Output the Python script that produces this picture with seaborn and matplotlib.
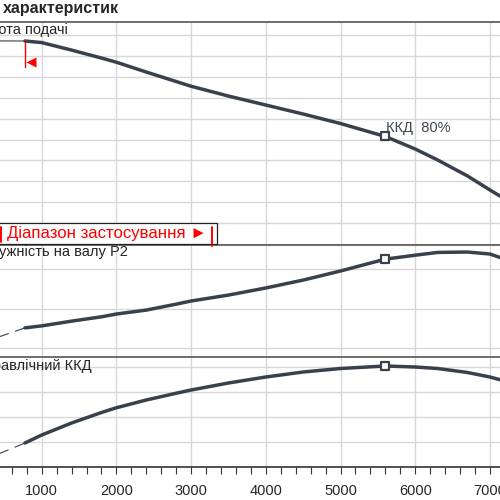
import matplotlib
matplotlib.use("Agg")
import matplotlib.pyplot as plt
import seaborn as sns
import pandas as pd
from matplotlib.patches import Rectangle

# pump curves (flow in l/h)
flow = [776, 1000, 1400, 1800, 2000, 2400, 2800, 3000, 3500, 4000, 4500, 5000, 5600, 6000, 6300, 6700, 7000, 7200]
head = [19.43, 19.28, 18.56, 17.80, 17.40, 16.46, 15.55, 15.10, 14.16, 13.30, 12.44, 11.53, 10.29, 9.09, 8.04, 6.51, 5.17, 4.31]
power = [2.51, 2.56, 2.68, 2.79, 2.86, 2.96, 3.11, 3.19, 3.34, 3.52, 3.72, 3.95, 4.25, 4.35, 4.42, 4.43, 4.38, 4.25]
eff = [19.2, 25.6, 35.2, 43.6, 47.4, 53.6, 59.0, 61.6, 67.2, 72.0, 76.0, 78.8, 80.8, 80.0, 78.8, 75.6, 72.0, 68.8]

# thin part of the curves below the application range
ext_flow = [0, 776]
ext_head = [19.45, 19.43]
ext_power = [2.0, 2.51]
ext_eff = [0.0, 19.2]

duty_flow = 5600
range_start = 776
xticks = [1000, 2000, 3000, 4000, 5000, 6000, 7000]

df = pd.DataFrame({"flow": flow, "head": head, "power": power, "eff": eff})
duty = df[df["flow"] == duty_flow]

sns.set_style("white")
plt.rcParams["font.family"] = ["Liberation Sans", "DejaVu Sans"]

CURVE = "#38414d"
GRID = "#d8d8d8"
SPINE = "#555555"

fig = plt.figure(figsize=(5, 5), dpi=100)


def fx(px):
    return px / 500


def fy(py):
    return 1 - py / 500


# axes run past the figure edges, like the cropped original
left, width = -0.066, 1.1952
ax1 = fig.add_axes([left, fy(245), width, (245 - 22) / 500])
ax2 = fig.add_axes([left, fy(357), width, (357 - 245) / 500])
ax3 = fig.add_axes([left, fy(467), width, (467 - 357) / 500])

panels = [
    (ax1, "head", ext_head, (-0.1, 21.25), range(0, 21, 2), "-"),
    (ax2, "power", ext_power, (1.772, 4.608), [2, 3, 4], (2.7, (12, 6))),
    (ax3, "eff", ext_eff, (0, 88), [0, 20, 40, 60, 80], (2.7, (12, 6))),
]

for ax, col, ext, ylim, yt, ls in panels:
    ax.plot(ext_flow, ext, color=CURVE, lw=0.8, ls=ls, zorder=3)
    sns.lineplot(data=df, x="flow", y=col, ax=ax, color=CURVE, lw=2.5, zorder=4)
    sns.scatterplot(data=duty, x="flow", y=col, ax=ax, marker="s", s=32,
                    facecolor="white", edgecolor=CURVE, linewidth=1.6, zorder=5)
    ax.set_xlim(0, 8000)
    ax.set_ylim(*ylim)
    ax.set_xticks(xticks)
    ax.set_yticks(list(yt))
    ax.grid(True, which="major", color=GRID, lw=1.0)
    ax.set_xlabel("")
    ax.set_ylabel("")
    ax.tick_params(left=False, bottom=False, labelleft=False, labelbottom=False)
    for s in ["left", "right", "bottom"]:
        ax.spines[s].set_visible(False)
    ax.spines["top"].set_color(SPINE)
    ax.spines["top"].set_linewidth(1.2)
    ax.set_axisbelow(True)

ax3.spines["bottom"].set_visible(True)
ax3.spines["bottom"].set_color("#333333")
ax3.spines["bottom"].set_linewidth(1.2)
ax3.set_xticks(range(0, 8001, 200), minor=True)
ax3.tick_params(axis="x", which="both", bottom=True, labelbottom=True, direction="out",
                length=5, width=0.8, color="#333333", labelsize=10.5, pad=7)
ax3.set_xticklabels([str(t) for t in xticks])

# start of application range
ax1.plot([range_start, range_start], [19.43, 16.94], color="red", lw=1.0, zorder=6)
ax1.plot([860], [17.42], marker="<", color="red", ms=7, mec="none", zorder=6)

ax1.text(duty_flow + 10, 11.1, "ККД  80%", fontsize=10.5, color="#3d4652", va="center")

fig.text(fx(3), fy(9), "характеристик", fontsize=11.5, fontweight="bold",
         va="center", ha="left")
fig.text(fx(68), fy(30), "Висота подачі", fontsize=10.5, va="center", ha="right")
fig.text(fx(128), fy(252), "Потужність на валу P2", fontsize=10.5, va="center", ha="right")
fig.text(fx(92), fy(366), "Гідравлічний ККД", fontsize=10.5, va="center", ha="right")

# application range box
fig.add_artist(Rectangle((fx(-10), fy(244)), fx(227), (244 - 223) / 500,
                         transform=fig.transFigure, facecolor="white",
                         edgecolor="#222222", lw=0.9, zorder=5))
fig.text(fx(7), fy(233.5), "Діапазон застосування ►", fontsize=12.1, color="red",
         va="center", ha="left", zorder=6)
fig.add_artist(plt.Line2D([fx(212), fx(212)], [fy(227), fy(246)], color="red",
                          lw=1.4, transform=fig.transFigure, zorder=6))
fig.add_artist(plt.Line2D([fx(1), fx(1)], [fy(227), fy(242)], color="red",
                          lw=1.4, transform=fig.transFigure, zorder=6))

fig.savefig("out.png", dpi=100)
